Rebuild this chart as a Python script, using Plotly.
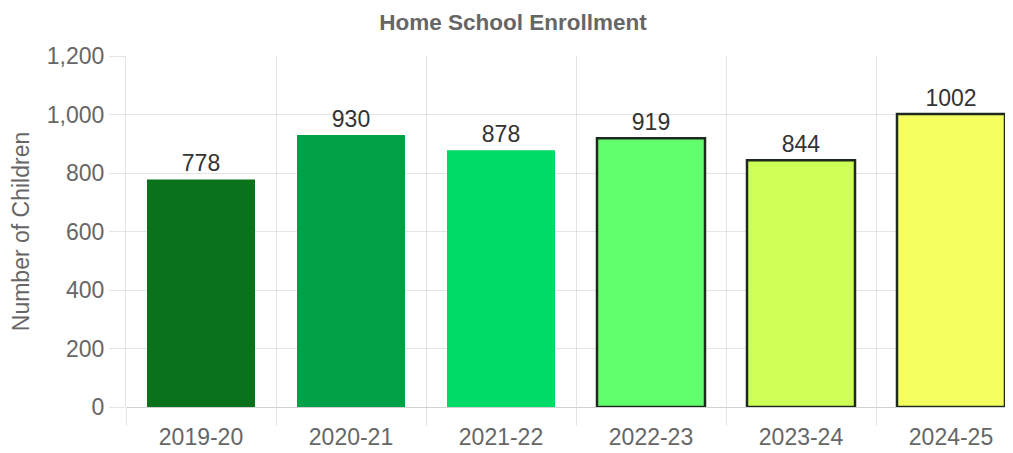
import plotly.graph_objects as go

categories = ["2019-20", "2020-21", "2021-22", "2022-23", "2023-24", "2024-25"]
values = [778, 930, 878, 919, 844, 1002]
bar_colors = ["#0a721b", "#02a148", "#00da66", "#60ff6b", "#cdff57", "#f5ff60"]
border_colors = ["#0a721b", "#02a148", "#00da66", "#1e2a1e", "#1e2a1e", "#1e2a1e"]
border_widths = [0, 0, 0, 2.5, 2.5, 2.5]
y_ticks = [0, 200, 400, 600, 800, 1000, 1200]

# page body has an 8px margin; compensate so the chart fills the 1013x453 window
OFF = 8
W, H = 1013 - OFF, 453 - OFF
L, R, T, B = 126 - OFF, 0, 56 - OFF, 46
grid = "rgba(0,0,0,0.1)"
font = "Liberation Sans, Arial, sans-serif"
fs = 23

fig = go.Figure(go.Bar(
    x=categories, y=values,
    marker=dict(color=bar_colors, line=dict(color=border_colors, width=border_widths)),
    text=values, textposition="outside", texttemplate="%{text}",
    textfont=dict(family=font, size=fs, color="#333333"),
    cliponaxis=False,
))

fig.update_layout(
    width=W, height=H,
    margin=dict(l=L, r=R, t=T, b=B, pad=0, autoexpand=False),
    paper_bgcolor="white", plot_bgcolor="white",
    bargap=0.28,
    showlegend=False,
    title=dict(text="<b>Home School Enrollment</b>", x=(513 - OFF) / W, xref="container",
               xanchor="center", y=1 - (22 - OFF) / H, yref="container", yanchor="middle",
               font=dict(family=font, size=22.5, color="#666666")),
    xaxis=dict(
        range=[-0.5, (1013 - 126) / 150 - 0.5], automargin=False,
        tickson="boundaries", ticks="outside", ticklen=18, tickcolor=grid, tickwidth=1,
        ticklabelstandoff=14,
        showgrid=True, gridcolor=grid, gridwidth=1,
        showline=False, zeroline=False,
        tickfont=dict(family=font, size=fs, color="#666666"),
    ),
    yaxis=dict(
        range=[0, 1200], tickvals=y_ticks, tickformat=",", automargin=False,
        ticks="outside", ticklen=16, tickcolor=grid, tickwidth=1,
        showgrid=True, gridcolor=grid, gridwidth=1,
        zeroline=True, zerolinecolor="rgba(0,0,0,0.18)", zerolinewidth=1,
        showline=True, linecolor=grid, linewidth=1,
        tickfont=dict(family=font, size=fs, color="#666666"),
        title=dict(text="Number of Children", standoff=14,
                   font=dict(family=font, size=fs, color="#666666")),
    ),
)

fig.write_html("out.html")
